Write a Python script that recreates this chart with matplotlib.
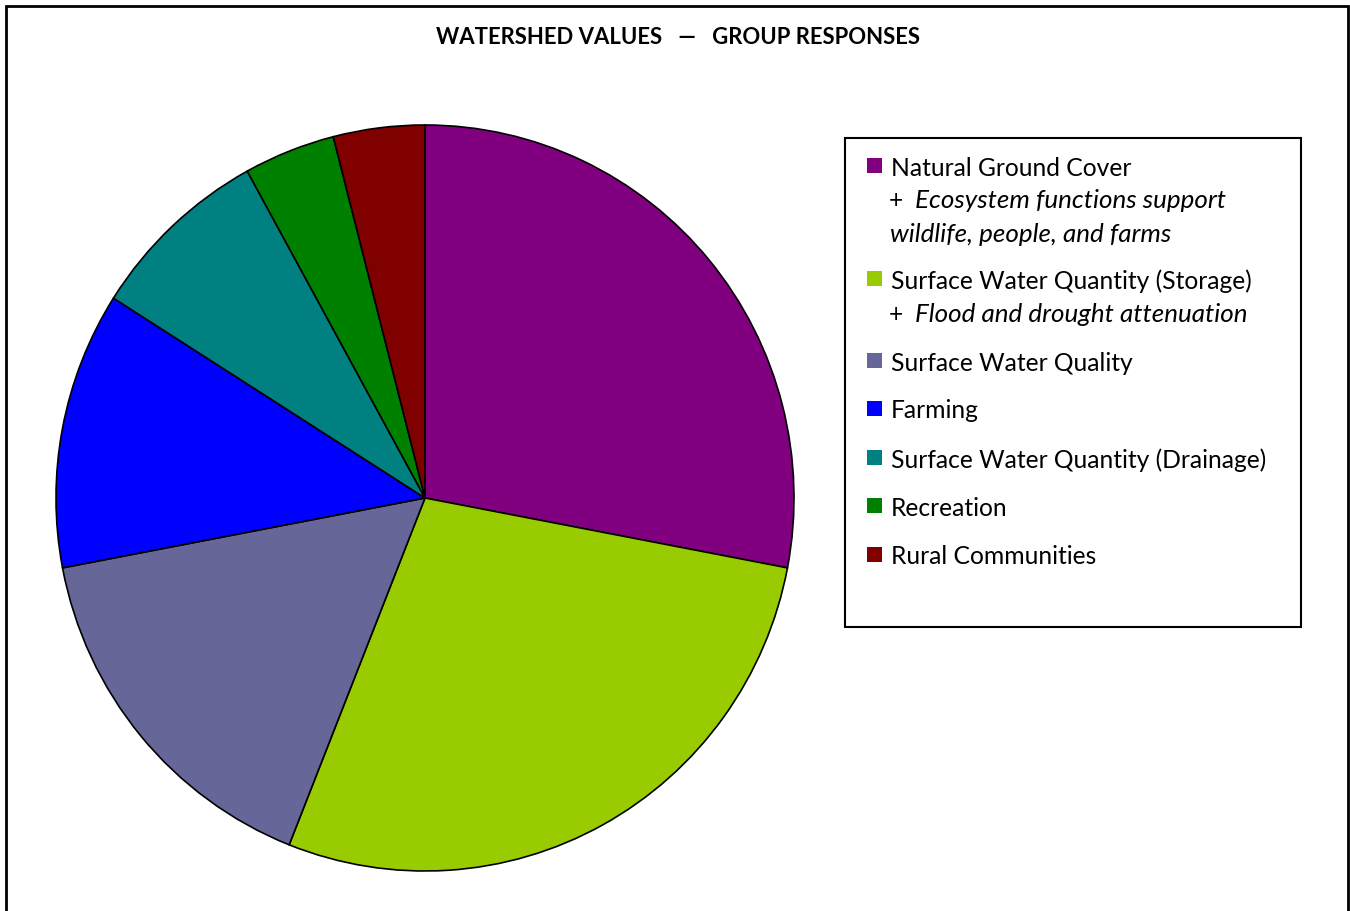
import matplotlib.pyplot as plt
from matplotlib.patches import Rectangle

W, H = 1350, 911

categories = [
    "Natural Ground Cover",
    "Surface Water Quantity (Storage)",
    "Surface Water Quality",
    "Farming",
    "Surface Water Quantity (Drainage)",
    "Recreation",
    "Rural Communities",
]
shares = [28, 28, 16, 12, 8, 4, 4]
colors = ["#800080", "#99CC00", "#666699", "#0000FF", "#008080", "#008000", "#800000"]
notes = {
    0: ["+  Ecosystem functions support", "wildlife, people, and farms"],
    1: ["+  Flood and drought attenuation"],
}
title = "WATERSHED VALUES   \u2014   GROUP RESPONSES"

plt.rcParams["font.family"] = ["Lato", "DejaVu Sans"]


def fx(px):
    return px / W


def fy(py):
    return 1 - py / H


fig = plt.figure(figsize=(W / 100, H / 100), dpi=100)

# outer frame
fig.patches.append(Rectangle((fx(6), fy(930)), fx(1348) - fx(6), fy(6) - fy(930),
                             transform=fig.transFigure, fill=False,
                             edgecolor="black", linewidth=2))

fig.text(fx(678), fy(38), title, ha="center", va="center",
         fontsize=15.9, fontweight="bold")

# pie
cx, cy, rx, ry = 425, 498, 369, 373
ax = fig.add_axes([fx(cx - rx), fy(cy + ry), (2 * rx) / W, (2 * ry) / H])
ax.pie(shares, colors=colors, startangle=90, counterclock=False, radius=1,
       wedgeprops=dict(edgecolor="black", linewidth=1.2))
ax.set_aspect("auto")
ax.set_xlim(-1.0, 1.0)
ax.set_ylim(-1.0, 1.0)
ax.axis("off")

# legend
fig.patches.append(Rectangle((fx(845), fy(627)), fx(1301) - fx(845), fy(138) - fy(627),
                             transform=fig.transFigure, fill=False,
                             edgecolor="black", linewidth=1.5))
fs = 17.7
fs_it = 18.7
row_y = [168, 281, 363, 411, 460, 508, 557]
for i, (lab, col) in enumerate(zip(categories, colors)):
    y = row_y[i]
    fig.patches.append(Rectangle((fx(867), fy(y + 5)), 15 / W, 15 / H,
                                 transform=fig.transFigure, facecolor=col,
                                 edgecolor="none"))
    fig.text(fx(891), fy(y), lab, ha="left", va="center", fontsize=fs)
    for j, line in enumerate(notes.get(i, [])):
        ly = y + 33 * (j + 1)
        if line.startswith("+"):
            fig.text(fx(889), fy(ly), "+", ha="left", va="center", fontsize=fs)
            fig.text(fx(915), fy(ly), line[3:], ha="left", va="center",
                     fontsize=fs_it, style="italic")
        else:
            fig.text(fx(890), fy(ly), line, ha="left", va="center",
                     fontsize=fs_it, style="italic")

fig.savefig("out.png", dpi=100)
